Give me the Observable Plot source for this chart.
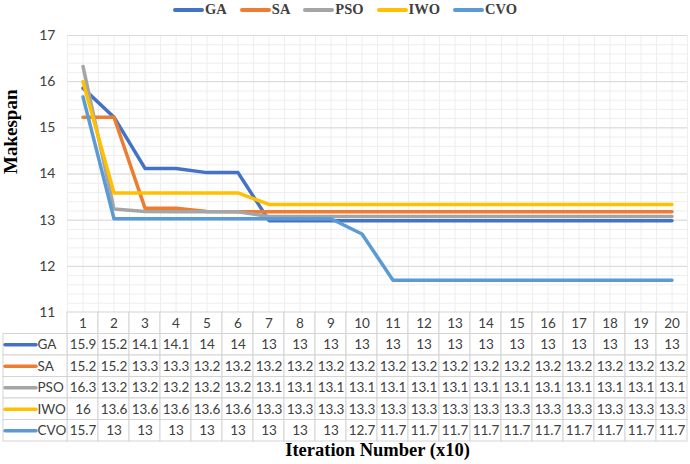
<!DOCTYPE html>
<html><head><meta charset="utf-8">
<script src="https://cdn.jsdelivr.net/npm/d3@7"></script>
<script src="https://cdn.jsdelivr.net/npm/@observablehq/plot@0.6"></script>
<style>
body{margin:0;background:#fff;width:690px;height:464px;overflow:hidden;position:relative;}
#chart{position:absolute;left:0;top:0;}
#table{position:absolute;left:0;top:312px;}
#legend{position:absolute;left:0;top:2px;width:690px;display:flex;justify-content:center;gap:13px;
  font-family:"Liberation Serif",serif;font-weight:bold;font-size:14.5px;color:#404040;line-height:15px;}
#legend .item{display:flex;align-items:center;}
#legend .sw{display:inline-block;width:31px;height:4px;margin-right:1px;border-radius:2px;}
svg{overflow:visible;}
</style></head><body>
<div id="chart"></div>
<div id="table"></div>
<div id="legend"></div>
<script>
const iterations = [1,2,3,4,5,6,7,8,9,10,11,12,13,14,15,16,17,18,19,20];
const seriesNames = ["GA","SA","PSO","IWO","CVO"];
const seriesColors = ["#4472C4","#ED7D31","#A5A5A5","#FFC000","#5B9BD5"];
const GA  = [15.86,15.23,14.12,14.12,14.03,14.03,12.99,12.99,12.99,12.99,12.99,12.99,12.99,12.99,12.99,12.99,12.99,12.99,12.99,12.99];
const SA  = [15.23,15.23,13.26,13.26,13.19,13.18,13.18,13.18,13.18,13.18,13.18,13.18,13.18,13.18,13.18,13.18,13.18,13.18,13.18,13.18];
const PSO = [16.33,13.24,13.19,13.18,13.18,13.18,13.08,13.08,13.08,13.08,13.08,13.08,13.08,13.08,13.08,13.08,13.08,13.08,13.08,13.08];
const IWO = [16.0,13.59,13.59,13.59,13.59,13.59,13.34,13.34,13.34,13.34,13.34,13.34,13.34,13.34,13.34,13.34,13.34,13.34,13.34,13.34];
const CVO = [15.67,13.03,13.03,13.03,13.03,13.03,13.03,13.03,13.03,12.7,11.7,11.7,11.7,11.7,11.7,11.7,11.7,11.7,11.7,11.7];
const yTicks = [11,12,13,14,15,16,17];
const xTitle = "Iteration Number (x10)";
const yTitle = "Makespan";

const values = {GA, SA, PSO, IWO, CVO};
const data = seriesNames.flatMap((s, k) => iterations.map((it, i) => ({series: s, row: k + 1, x: it, y: values[s][i]})));
const fmt = d3.format(".1~f");

const W = 690, ML = 67, MR = 3;
const colW = (W - ML - MR) / iterations.length;
const px = p => 0.5 + (p - ML) / colW; // pixel -> x units (for table label column in the margin)
const xDomain = [0.5, iterations.length + 0.5];
const color = {domain: seriesNames, range: seriesColors};
const minorY = d3.range(110, 171, 2).map(v => v / 10);
const vGrid = d3.range(1, 2 * iterations.length + 2).map(v => v / 2);

const chart = Plot.plot({
  width: W, height: 322, marginTop: 35, marginBottom: 10, marginLeft: ML, marginRight: MR,
  x: {domain: xDomain, axis: null},
  y: {domain: [11, 17], axis: null},
  color,
  style: {fontFamily: "Lato, sans-serif", fontSize: "14px", color: "#404040", background: "transparent", overflow: "visible"},
  marks: [
    Plot.ruleY(minorY, {stroke: "#eeeeee", strokeWidth: 1}),
    Plot.ruleX(vGrid, {stroke: "#eeeeee", strokeWidth: 1}),
    Plot.ruleY(yTicks, {stroke: "#d9d9d9", strokeWidth: 1}),
    Plot.axisY(yTicks, {tickSize: 0, tickPadding: 12, label: null, fontSize: 14, fill: "#404040"}),
    Plot.line(data, {x: "x", y: "y", z: "series", stroke: "series", strokeWidth: 3.5, strokeLinejoin: "round"}),
    Plot.text([yTitle], {frameAnchor: "left", dx: -57, rotate: -90, fontSize: 19, fontWeight: "bold", fontFamily: "Liberation Serif, serif", fill: "#000"})
  ]
});
document.getElementById("chart").appendChild(chart);

const rows = seriesNames.map((s, k) => ({series: s, row: k + 1}));
const tStroke = "#d4d4d4";
const table = Plot.plot({
  width: W, height: 152, marginTop: 0, marginBottom: 23, marginLeft: ML, marginRight: MR,
  x: {domain: xDomain, axis: null},
  y: {domain: [0, 6], reverse: true, axis: null},
  color,
  style: {fontFamily: "Lato, sans-serif", fontSize: "13.5px", color: "#404040", background: "transparent", overflow: "visible"},
  marks: [
    Plot.rect(iterations, {x1: d => d - 0.5, x2: d => d + 0.5, y1: 0, y2: 1, fill: "white", stroke: tStroke}),
    Plot.rect(data, {x1: d => d.x - 0.5, x2: d => d.x + 0.5, y1: d => d.row, y2: d => d.row + 1, fill: "white", stroke: tStroke}),
    Plot.rect(rows, {x1: px(3), x2: 0.5, y1: d => d.row, y2: d => d.row + 1, fill: "white", stroke: tStroke}),
    Plot.text(iterations, {x: d => d, y: 0.5, text: d => String(d), fill: "#404040"}),
    Plot.text(data, {x: "x", y: d => d.row + 0.5, text: d => fmt(d.y), fill: "#404040"}),
    Plot.ruleY(rows, {y: d => d.row + 0.5, x1: px(5), x2: px(36), stroke: "series", strokeWidth: 3.5, strokeLinecap: "round"}),
    Plot.text(rows, {x: px(37), y: d => d.row + 0.5, text: "series", textAnchor: "start", fill: "#404040"}),
    Plot.text([xTitle], {frameAnchor: "bottom", dy: 14, fontSize: 18.5, fontWeight: "bold", fontFamily: "Liberation Serif, serif", fill: "#000"})
  ]
});
document.getElementById("table").appendChild(table);

const legend = document.getElementById("legend");
seriesNames.forEach((s, k) => {
  const it = document.createElement("div");
  it.className = "item";
  const sw = document.createElement("span");
  sw.className = "sw";
  sw.style.background = seriesColors[k];
  const tx = document.createElement("span");
  tx.textContent = s;
  it.appendChild(sw); it.appendChild(tx);
  legend.appendChild(it);
});
</script>
</body></html>
